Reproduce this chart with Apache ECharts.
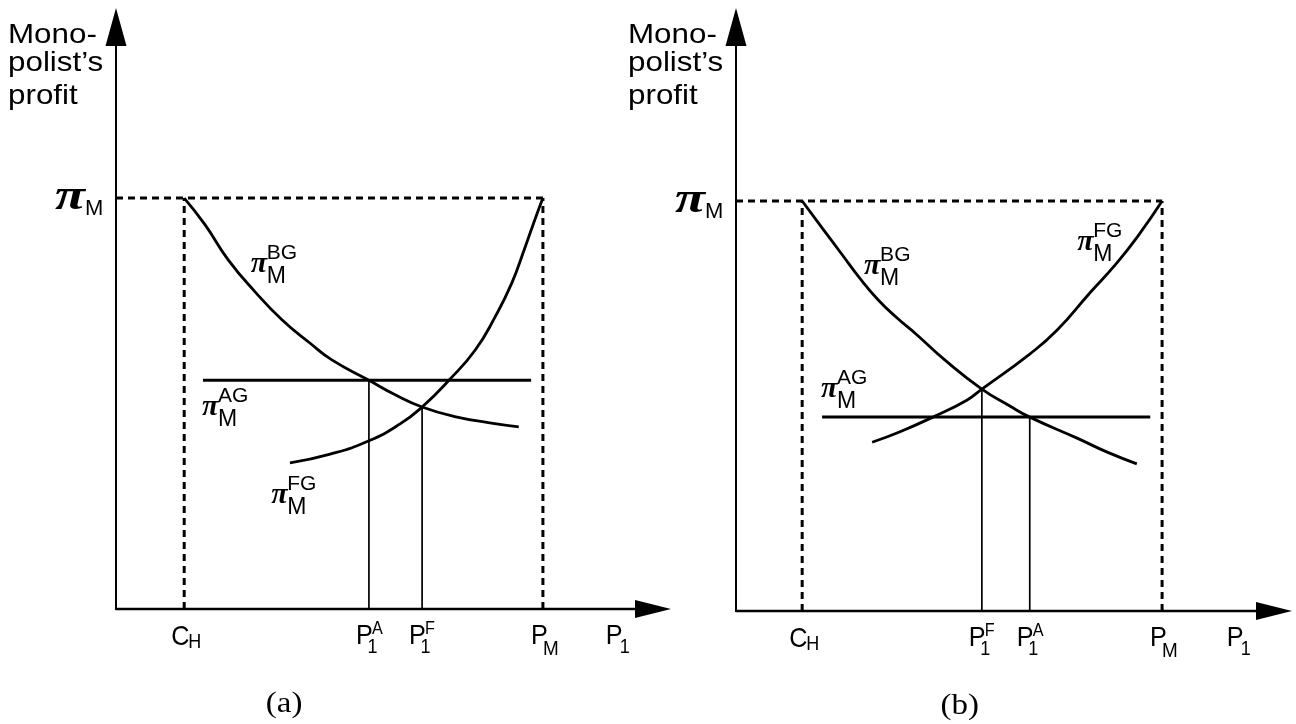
<!DOCTYPE html>
<html><head><meta charset="utf-8">
<script src="https://cdn.jsdelivr.net/npm/echarts/dist/echarts.min.js"></script>
<style>html,body{margin:0;padding:0;background:#fff}#c{width:1296px;height:724px}</style>
</head><body><div id="c"></div>
<script>
// ---------- Panel (a) values (x: price P1, y: monopolist's profit) ----------
const aPiM = 70.6, aCH = 12.7, aPM = 79.5;
const aP1A = 47.1, aP1F = 57.0, aP1Ftop = 34.7;
const aAGx = [16.2, 77.3];
const aAGy = 39.3;
const aBGx = [12.7, 16.6, 20.9, 25.9, 30.9, 36.1, 40.2, 47.1, 52.0, 57.0, 63.3, 69.6, 75.0];
const aBGy = [70.6, 66.0, 60.0, 54.5, 49.7, 45.7, 42.8, 39.3, 36.8, 34.7, 33.0, 32.0, 31.3];
const aFGx = [32.4, 39.9, 47.1, 52.9, 57.0, 62.0, 66.9, 70.6, 73.7, 76.0, 78.2, 79.5];
const aFGy = [25.1, 26.6, 28.9, 31.8, 34.7, 39.3, 44.5, 50.2, 56.0, 61.7, 67.4, 70.6];
const aTickVals = [aCH, aP1A, aP1F, aPM];
const aTickText = [['C', 'H', ''], ['P', '1', 'A'], ['P', '1', 'F'], ['P', 'M', '']];

// ---------- Panel (b) values ----------
const bPiM = 70.2, bCH = 12.3, bPM = 79.2;
const bP1F = 45.7, bP1Ftop = 38.0, bP1A = 54.6;
const bAGx = [16.0, 77.0];
const bAGy = 33.2;
const bBGx = [12.3, 16.0, 19.5, 23.0, 26.4, 29.9, 33.5, 38.8, 45.7, 50.9, 54.6, 63.4, 69.0, 74.5];
const bBGy = [70.2, 65.6, 61.3, 57.0, 53.3, 50.2, 47.4, 43.0, 38.0, 35.1, 33.2, 29.6, 27.2, 25.2];
const bFGx = [25.3, 30.5, 36.6, 42.9, 45.7, 54.6, 59.7, 65.8, 70.8, 75.1, 79.2];
const bFGy = [28.9, 30.7, 33.2, 36.1, 38.0, 44.0, 48.1, 54.5, 59.6, 64.7, 70.2];
const bTickVals = [bCH, bP1F, bP1A, bPM];
const bTickText = [['C', 'H', ''], ['P', '1', 'F'], ['P', '1', 'A'], ['P', 'M', '']];

// annotation anchors (data units of each panel)
const axisTitleX = 91.2;
const panelTitleX = [31.3, 41.6];
const panelTitleText = ['(a)', '(b)'];
const aCurveLabels = [['BG', 25.3, 58.6], ['AG', 16.2, 34.0], ['FG', 29.1, 18.9]];
const bCurveLabels = [['BG', 24.0, 58.4], ['FG', 63.6, 62.5], ['AG', 16.0, 37.3]];

const SANS = '"Liberation Sans", Arial, Helvetica, sans-serif';
const SERIF = '"Liberation Serif", "Times New Roman", serif';

const chart = echarts.init(document.getElementById('c'), null, {renderer: 'canvas'});

function axisX(i) {
  return {type: 'value', gridIndex: i, min: 0, max: 100,
    axisLine: {show: true, onZero: false, symbol: ['none', 'triangle'], symbolSize: [18, 36],
      lineStyle: {color: '#000', width: 2.3}},
    axisTick: {show: false}, axisLabel: {show: false}, splitLine: {show: false}};
}
function axisY(i) {
  return {type: 'value', gridIndex: i, min: 0, max: 100,
    axisLine: {show: true, onZero: false, symbol: ['none', 'triangle'], symbolSize: [21, 38],
      lineStyle: {color: '#000', width: 2}},
    axisTick: {show: false}, axisLabel: {show: false}, splitLine: {show: false}};
}
function line(gi, xs, ys, w, dash, smooth, z) {
  return {type: 'line', xAxisIndex: gi, yAxisIndex: gi,
    data: xs.map((x, i) => [x, ys[i]]), symbol: 'none', showSymbol: false,
    smooth: smooth ? 0.5 : false,
    lineStyle: {color: '#000', width: w, type: dash || 'solid', cap: 'butt'},
    silent: true, clip: false, z: z || 2, animation: false};
}
const DASH = [7, 5];
function panelSeries(g, piM, CH, PM, AGx, AGy, BGx, BGy, FGx, FGy, vLines) {
  const s = [
    line(g, [0, PM], [piM, piM], 3, DASH, false, 1),
    line(g, [CH, CH], [0, piM], 3, DASH, false, 1),
    line(g, [PM, PM], [0, piM], 3, DASH, false, 1),
    line(g, AGx, [AGy, AGy], 3, null, false, 3),
    line(g, BGx, BGy, 2.8, null, true, 3),
    line(g, FGx, FGy, 2.8, null, true, 3)
  ];
  vLines.forEach(v => s.push(line(g, [v[0], v[0]], [0, v[1]], 1.7, null, false, 2)));
  return s;
}

const option = {
  animation: false,
  backgroundColor: '#ffffff',
  grid: [
    {left: 116, top: 27, width: 537, height: 582},
    {left: 736, top: 27, width: 538, height: 584}
  ],
  xAxis: [axisX(0), axisX(1)],
  yAxis: [axisY(0), axisY(1)],
  series: [].concat(
    panelSeries(0, aPiM, aCH, aPM, aAGx, aAGy, aBGx, aBGy, aFGx, aFGy, [[aP1A, aAGy], [aP1F, aP1Ftop]]),
    panelSeries(1, bPiM, bCH, bPM, bAGx, bAGy, bBGx, bBGy, bFGx, bFGy, [[bP1F, bP1Ftop], [bP1A, bAGy]])
  )
};
chart.setOption(option);

function buildGraphics() {
  const els = [];
  const P = (g, x, y) => chart.convertToPixel({gridIndex: g}, [x, y]);
  const T = (x, y, text, font, sx, align) => els.push({
    type: 'text', x: x, y: y, scaleX: sx || 1, z: 100, silent: true,
    style: {text: text, font: font, fill: '#000',
      textAlign: align || 'left', textVerticalAlign: 'middle',
      align: align || 'left', verticalAlign: 'middle'}
  });
  const panels = [
    {piM: aPiM, ticks: aTickVals, tickText: aTickText, curves: aCurveLabels},
    {piM: bPiM, ticks: bTickVals, tickText: bTickText, curves: bCurveLabels}
  ];
  panels.forEach((pn, g) => {
    const o = P(g, 0, 0), top = P(g, 0, 100);
    // y axis title
    T(o[0] - 108, top[1] + 8, 'Mono-', '28px ' + SANS, 1.12);
    T(o[0] - 108, top[1] + 36, 'polist\u2019s', '28px ' + SANS, 1.12);
    T(o[0] - 108, top[1] + 69, 'profit', '28px ' + SANS, 1.12);
    // pi_M on the y axis
    const pm = P(g, 0, pn.piM);
    T(pm[0] - 61, pm[1] + 0, '\u03C0', 'italic bold 44px ' + SERIF, 1.25);
    T(pm[0] - 31, pm[1] + 11, 'M', '22px ' + SANS);
    // tick labels
    pn.ticks.forEach((v, i) => {
      const p = P(g, v, 0);
      const t = pn.tickText[i];
      if (t[0] === 'C') {
        T(p[0] - 13, p[1] + 28, 'C', '28px ' + SANS, 0.9);
        T(p[0] + 4, p[1] + 33, 'H', '20px ' + SANS, 0.9);
      } else if (t[1] === 'M') {
        T(p[0] - 12, p[1] + 27, 'P', '28px ' + SANS, 0.9);
        T(p[0] + 0, p[1] + 40, 'M', '21px ' + SANS, 0.9);
      } else {
        T(p[0] - 13, p[1] + 27, 'P', '28px ' + SANS, 0.9);
        T(p[0] - 1.5, p[1] + 38, t[1], '20px ' + SANS, 0.9);
        T(p[0] + 3, p[1] + 20, t[2], '18px ' + SANS, 0.9);
      }
    });
    // x axis title P1
    const ax = P(g, axisTitleX, 0);
    T(ax[0], ax[1] + 27, 'P', '28px ' + SANS, 0.9);
    T(ax[0] + 14, ax[1] + 38, '1', '20px ' + SANS, 0.9);
    // panel title
    const pt = P(g, panelTitleX[g], 0);
    T(pt[0], pt[1] + 95, panelTitleText[g], '30px ' + SERIF, 1.1, 'center');
    // curve labels
    pn.curves.forEach(c => {
      const p = P(g, c[1], c[2]);
      T(p[0] - 1, p[1] - 4, '\u03C0', 'italic bold 30px ' + SERIF);
      T(p[0] + 15, p[1] - 15, c[0], '21px ' + SANS);
      T(p[0] + 15, p[1] + 8.5, 'M', '23px ' + SANS);
    });
  });
  return els;
}
chart.setOption({graphic: {elements: buildGraphics()}});
</script>
</body></html>
